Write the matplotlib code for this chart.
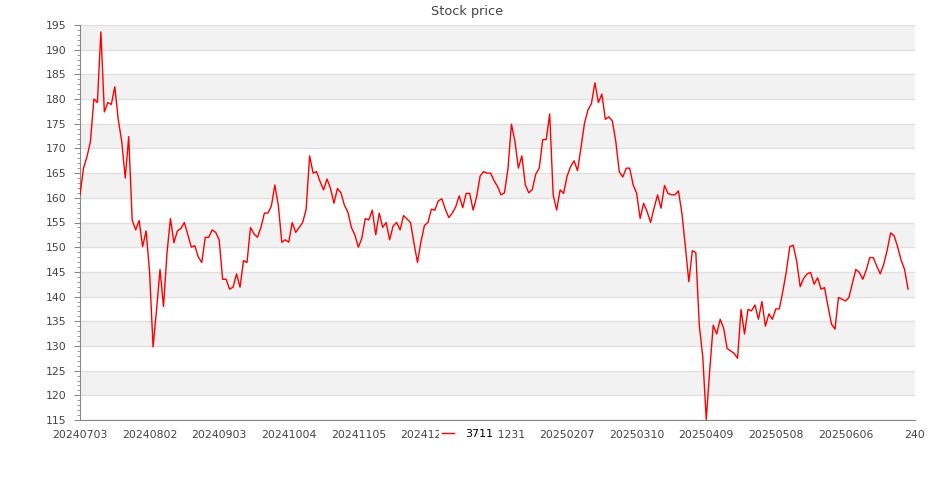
import matplotlib
matplotlib.use("Agg")
import matplotlib.pyplot as plt
from matplotlib.ticker import MultipleLocator

plt.rcParams['font.family'] = 'DejaVu Sans'

# x tick labels, one every 20 trading days
tick_labels = ['20240703', '20240802', '20240903', '20241004', '20241105',
               '20241203', '20241231', '20250207', '20250310', '20250409',
               '20250508', '20250606', '240']
tick_step = 20

# daily close of 3711
prices = [
    160.6, 166.0, 168.3, 171.4, 180.0, 179.3, 193.6, 177.4, 179.3, 178.9,
    182.5, 175.8, 171.4, 164.0, 172.4, 155.5, 153.5, 155.4, 150.1, 153.3,
    145.0, 129.8, 137.3, 145.5, 138.0, 148.8, 155.8, 150.9, 153.3, 153.8,
    155.0, 152.5, 150.0, 150.3, 148.0, 146.9, 152.0, 152.0, 153.5, 153.0,
    151.5, 143.5, 143.5, 141.5, 141.9, 144.6, 141.9, 147.3, 146.9, 154.0,
    152.7, 152.0, 154.0, 156.9, 156.9, 158.3, 162.6, 158.5, 151.0, 151.5,
    151.0, 155.0, 153.0, 154.0, 155.0, 157.7, 168.5, 165.0, 165.3, 163.3,
    161.6, 163.8, 161.9, 158.9, 161.9, 161.0, 158.5, 157.1, 154.0, 152.5,
    150.0, 151.8, 155.8, 155.5, 157.5, 152.5, 156.9, 154.0, 155.0, 151.5,
    154.3, 155.0, 153.5, 156.4, 155.7, 155.0, 150.8, 146.9, 151.1, 154.4,
    155.0, 157.7, 157.5, 159.4, 159.8, 157.7, 156.0, 156.9, 158.2, 160.4,
    158.0, 160.9, 160.9, 157.5, 160.2, 164.4, 165.3, 165.0, 165.0, 163.5,
    162.3, 160.6, 161.0, 165.8, 174.9, 171.5, 166.0, 168.5, 162.6, 161.0,
    161.7, 164.8, 166.0, 171.8, 171.8, 177.0, 160.6, 157.5, 161.6, 160.9,
    164.4, 166.3, 167.5, 165.5, 170.2, 175.1, 177.8, 179.1, 183.3, 179.3,
    181.0, 175.9, 176.4, 175.6, 171.4, 165.3, 164.2, 166.0, 166.0, 162.6,
    160.9, 155.8, 158.9, 157.2, 155.0, 157.9, 160.6, 157.9, 162.5, 160.9,
    160.6, 160.6, 161.4, 156.9, 150.1, 143.0, 149.3, 148.9, 134.2, 127.8,
    115.1, 125.1, 134.2, 132.4, 135.4, 133.6, 129.5, 129.0, 128.5, 127.5,
    137.4, 132.4, 137.4, 137.1, 138.3, 135.4, 139.0, 134.0, 136.5, 135.4,
    137.5, 137.5, 141.0, 145.0, 150.1, 150.4, 147.1, 142.0, 143.7, 144.6,
    144.9, 142.5, 143.8, 141.5, 141.8, 138.0, 134.4, 133.4, 139.8, 139.5,
    139.1, 139.8, 142.7, 145.5, 144.9, 143.5, 145.4, 147.9, 147.9, 146.2,
    144.6, 146.5, 149.4, 152.9, 152.3, 150.1, 147.4, 145.5, 141.5,
]

fig = plt.figure(figsize=(9.35, 5), dpi=100)
ax = fig.add_axes([80 / 935, 80 / 500, 835 / 935, 395 / 500])

# alternating bands behind the grid
for lo in range(120, 195, 10):
    ax.axhspan(lo, lo + 5, color='#f2f2f2', lw=0, zorder=0)

ax.plot(range(len(prices)), prices, color='#ff0000', lw=1, label='3711', zorder=3)

ax.set_ylim(115, 195)
ax.set_xlim(0, tick_step * (len(tick_labels) - 1))
ax.yaxis.set_major_locator(MultipleLocator(5))
ax.yaxis.set_minor_locator(MultipleLocator(1))
ax.set_xticks(range(0, tick_step * len(tick_labels), tick_step))
ax.set_xticklabels(tick_labels)

ax.yaxis.grid(True, color='#e0e0e0', lw=1)
ax.set_axisbelow(True)

for s in ['top', 'right']:
    ax.spines[s].set_visible(False)
for s in ['left', 'bottom']:
    ax.spines[s].set_color('#888888')

ax.tick_params(axis='x', length=0, pad=7, labelsize=7.8, labelcolor='#444444')
ax.tick_params(axis='y', which='major', length=4, color='#888888', pad=6,
               labelsize=7.8, labelcolor='#444444')
ax.tick_params(axis='y', which='minor', length=2, color='#888888')

fig.text(467 / 935, 1 - 12 / 500, 'Stock price', ha='center', va='center',
         fontsize=9.3, color='#444444')

fig.legend(loc='center', bbox_to_anchor=(468 / 935, 1 - 434 / 500),
           frameon=True, facecolor='white', edgecolor='none', framealpha=1,
           fancybox=False, fontsize=8, handlelength=1.1, handletextpad=1.0,
           borderpad=0.25)

fig.savefig('out.png', dpi=100)
